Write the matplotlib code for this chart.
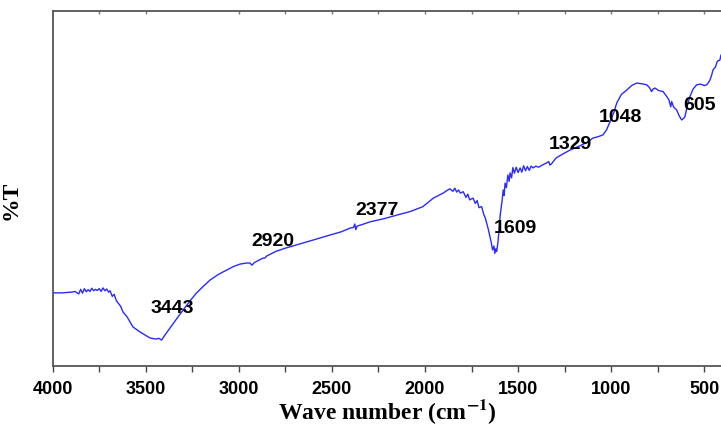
import matplotlib
matplotlib.use("Agg")
import matplotlib.pyplot as plt

# FTIR spectrum (wavenumber in cm-1, transmittance arbitrary %)
wavenumber = [4000, 3950, 3900, 3880, 3860, 3850, 3840, 3830, 3820, 3810, 3800, 3790, 3780,
              3770, 3760, 3750, 3740, 3730, 3720, 3710, 3700, 3692, 3680, 3670, 3658, 3645,
              3635, 3622, 3600, 3569, 3531, 3500, 3477, 3460, 3443, 3430, 3415, 3400, 3370,
              3330, 3299, 3260, 3227, 3190, 3155, 3110, 3066, 3030, 2994, 2960, 2940, 2930,
              2915, 2900, 2870, 2860, 2850, 2800, 2750, 2691, 2600, 2510, 2450, 2400, 2385,
              2377, 2372, 2365, 2340, 2296, 2220, 2152, 2080, 2011, 1955, 1903, 1880, 1866,
              1850, 1840, 1830, 1820, 1810, 1795, 1780, 1770, 1760, 1742, 1730, 1720, 1710,
              1696, 1685, 1675, 1669, 1660, 1651, 1643, 1637, 1630, 1625, 1620, 1615, 1609,
              1600, 1597, 1590, 1585, 1580, 1575, 1570, 1563, 1555, 1548, 1543, 1535, 1528,
              1520, 1510, 1500, 1489, 1480, 1470, 1460, 1450, 1440, 1430, 1419, 1405, 1390,
              1370, 1347, 1335, 1329, 1320, 1296, 1260, 1222, 1169, 1130, 1098, 1070, 1044,
              1025, 1006, 985, 970, 945, 917, 890, 863, 835, 809, 795, 783, 775, 765, 745,
              721, 700, 690, 680, 675, 665, 648, 635, 621, 610, 604, 590, 577, 560, 541, 520,
              500, 487, 478, 469, 460, 453, 440, 430, 416, 410]
transmittance = [20.6, 20.6, 20.8, 21.0, 20.3, 21.6, 20.5, 21.8, 20.9, 21.5, 21.0, 21.9, 21.2,
                 21.6, 21.3, 21.8, 21.0, 22.0, 21.2, 21.7, 20.8, 21.2, 19.6, 20.2, 18.4, 17.5,
                 16.8, 15.2, 13.8, 11.0, 9.6, 8.6, 7.9, 7.7, 7.6, 7.8, 7.3, 8.5, 10.7,
                 13.6, 15.8, 18.5, 20.6, 22.5, 24.2, 25.8, 27.0, 28.0, 28.7, 29.0, 29.0, 28.4,
                 29.2, 29.6, 30.4, 30.4, 31.0, 32.3, 33.2, 34.1, 35.5, 36.9, 37.8, 38.9, 39.0,
                 40.0, 38.4, 39.4, 39.8, 40.6, 41.5, 42.5, 43.5, 44.9, 47.3, 48.7, 49.5, 49.9,
                 49.2, 50.1, 49.0, 49.6, 48.7, 49.1, 47.5, 48.4, 46.8, 47.3, 45.8, 46.6, 44.6,
                 44.9, 42.8, 41.5, 40.3, 38.5, 36.4, 34.5, 32.7, 33.8, 31.7, 33.0, 32.3, 34.5,
                 39.5, 42.1, 45.0, 47.0, 49.6, 48.0, 51.5, 50.2, 53.8, 52.0, 54.4, 53.0, 55.9,
                 54.3, 56.0, 54.5, 55.8, 54.6, 56.4, 55.0, 56.2, 55.1, 56.3, 55.8, 56.3, 56.0,
                 56.6, 57.2, 57.6, 56.6, 57.0, 58.6, 59.7, 60.8, 62.0, 63.0, 64.2, 64.6, 65.1,
                 66.5, 68.8, 71.5, 74.1, 76.5, 77.7, 79.0, 79.7, 79.5, 79.2, 78.5, 77.3, 78.0, 78.3, 77.6,
                 77.3, 75.8, 75.0, 73.0, 74.5, 73.0, 72.1, 70.5, 69.3, 69.8, 70.2, 73.5, 75.9, 78.0, 79.2, 79.4,
                 79.0, 79.2, 79.8, 80.6, 82.0, 83.4, 84.2, 85.8, 86.2, 87.6]

peak_labels = ["3443", "2920", "2377", "1609", "1329", "1048", "605"]
label_x = [3358, 2819, 2258, 1517, 1220, 950, 523]
label_y = [16.3, 35.1, 43.9, 38.7, 62.4, 70.0, 73.5]

xticks = [4000, 3500, 3000, 2500, 2000, 1500, 1000, 500]
minor_xticks = [3750, 3250, 2750, 2250, 1750, 1250, 750]

plt.rcParams['mathtext.fontset'] = 'stix'

fig = plt.figure(figsize=(7.21, 4.25), dpi=100)
ax = fig.add_axes([52.7 / 721, 59 / 425, (721 - 52.7) / 721, 355 / 425])

ax.plot(wavenumber, transmittance, color='#2a2aff', linewidth=1.0)

ax.set_xticks(xticks)
ax.set_xticklabels([str(v) for v in xticks], fontsize=13, fontweight='bold',
                   family='Liberation Sans')
ax.set_xticks(minor_xticks, minor=True)
ax.tick_params(axis='x', which='both', direction='out', length=4, width=1,
               color='#444444', pad=7)
ax.tick_params(axis='y', which='both', left=False, labelleft=False)

ax.set_xlim(4000, 410)
ax.set_ylim(0, 100)

for t, x, y in zip(peak_labels, label_x, label_y):
    ax.text(x, y, t, ha='center', va='center', fontsize=14, fontweight='bold',
            family='Liberation Sans', color='black')

sec = ax.secondary_xaxis('top')
sec.set_xticks([3750, 3500, 3000, 2750, 2500, 2250, 2000, 1750, 1500, 1250, 1000, 750, 500])
sec.tick_params(axis='x', direction='in', length=2, width=1, color='#777777', labeltop=False)
sec.spines['top'].set_visible(False)

for name, sp in ax.spines.items():
    sp.set_color('#555555')
    sp.set_linewidth(1.3)
ax.spines['right'].set_visible(False)

ax.set_xlabel('Wave number (cm$^{\\mathbf{-1}}$)', fontsize=17, fontweight='bold',
              family='Liberation Serif', labelpad=-1)
ax.set_ylabel('%T', fontsize=17, fontweight='bold', family='Liberation Serif')
ax.yaxis.set_label_coords(-0.046, 0.468)

fig.savefig('out.png', dpi=100)
